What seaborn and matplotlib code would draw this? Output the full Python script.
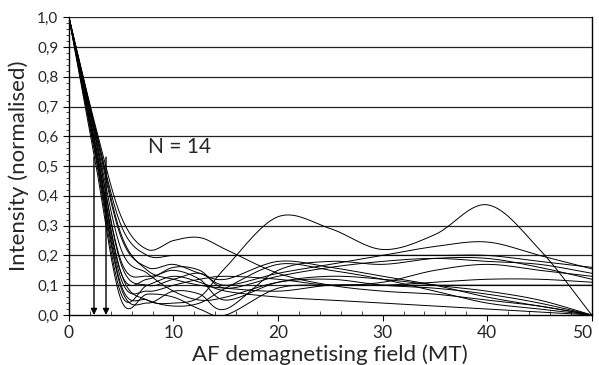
import numpy as np
import pandas as pd
import matplotlib
matplotlib.use("Agg")
import matplotlib.pyplot as plt
from matplotlib.ticker import MultipleLocator, FuncFormatter
import seaborn as sns

# AF steps (mT) and normalised intensities, one list per sample
af_steps = [0, 2.5, 5, 7.5, 10, 12.5, 15, 20, 25, 30, 35, 40, 45, 50]

s01 = [1, 0.58, 0.14, 0.05, 0.04, 0.06, 0.16, 0.33, 0.29, 0.22, 0.27, 0.37, 0.22, 0.00]
s02 = [1, 0.64, 0.33, 0.22, 0.25, 0.26, 0.22, 0.14, 0.10, 0.08, 0.07, 0.05, 0.03, 0.00]
s03 = [1, 0.63, 0.30, 0.20, 0.20, 0.20, 0.20, 0.20, 0.20, 0.20, 0.20, 0.20, 0.18, 0.16]
s04 = [1, 0.60, 0.17, 0.10, 0.12, 0.14, 0.10, 0.14, 0.17, 0.20, 0.23, 0.245, 0.20, 0.155]
s05 = [1, 0.55, 0.09, 0.04, 0.08, 0.07, 0.02, 0.15, 0.18, 0.17, 0.19, 0.19, 0.16, 0.12]
s06 = [1, 0.57, 0.12, 0.08, 0.10, 0.12, 0.13, 0.12, 0.10, 0.11, 0.15, 0.17, 0.15, 0.13]
s07 = [1, 0.52, 0.05, 0.07, 0.06, 0.02, 0.00, 0.09, 0.10, 0.10, 0.10, 0.10, 0.10, 0.10]
s08 = [1, 0.60, 0.18, 0.13, 0.15, 0.12, 0.05, 0.11, 0.13, 0.12, 0.10, 0.08, 0.05, 0.00]
s09 = [1, 0.62, 0.26, 0.16, 0.17, 0.14, 0.12, 0.18, 0.16, 0.13, 0.10, 0.06, 0.03, 0.00]
s10 = [1, 0.54, 0.07, 0.10, 0.13, 0.11, 0.08, 0.06, 0.05, 0.04, 0.03, 0.02, 0.01, 0.00]
s11 = [1, 0.58, 0.14, 0.12, 0.16, 0.15, 0.09, 0.13, 0.16, 0.18, 0.19, 0.18, 0.17, 0.14]
s12 = [1, 0.56, 0.10, 0.05, 0.03, 0.04, 0.09, 0.17, 0.15, 0.12, 0.08, 0.04, 0.02, 0.00]
s13 = [1, 0.61, 0.22, 0.14, 0.08, 0.05, 0.06, 0.11, 0.12, 0.10, 0.09, 0.07, 0.04, 0.00]
s14 = [1, 0.63, 0.27, 0.15, 0.12, 0.10, 0.09, 0.08, 0.10, 0.10, 0.11, 0.12, 0.12, 0.11]

samples = [s01, s02, s03, s04, s05, s06, s07, s08, s09, s10, s11, s12, s13, s14]

# median destructive fields marked by arrows
mdf_fields = [2.4, 3.55]


def smooth(x, y, n=20):
    # Catmull-Rom spline through the points, like a spreadsheet "smoothed line"
    x = np.asarray(x, float)
    y = np.asarray(y, float)
    px = np.concatenate([[2 * x[0] - x[1]], x, [2 * x[-1] - x[-2]]])
    py = np.concatenate([[2 * y[0] - y[1]], y, [2 * y[-1] - y[-2]]])
    t = np.linspace(0, 1, n, endpoint=False)
    xs, ys = [], []
    for i in range(1, len(px) - 2):
        for p, out in ((px, xs), (py, ys)):
            p0, p1, p2, p3 = p[i - 1], p[i], p[i + 1], p[i + 2]
            out.extend(0.5 * (2 * p1 + (-p0 + p2) * t
                              + (2 * p0 - 5 * p1 + 4 * p2 - p3) * t ** 2
                              + (-p0 + 3 * p1 - 3 * p2 + p3) * t ** 3))
    xs.append(x[-1])
    ys.append(y[-1])
    return np.array(xs), np.array(ys)


sns.set_style("white")
plt.rcParams["font.family"] = ["Lato", "DejaVu Sans"]

fig = plt.figure(figsize=(5.99, 3.65), dpi=100)
ax = fig.add_axes([0.115, 0.137, 0.873, 0.816])

for yy in np.arange(0.1, 1.01, 0.1):
    ax.axhline(yy, color="#222222", lw=0.9, zorder=1)

for i, vals in enumerate(samples):
    xs, ys = smooth(af_steps, vals)
    df = pd.DataFrame({"field": xs, "intensity": ys})
    sns.lineplot(data=df, x="field", y="intensity", color="black", lw=0.7,
                 sort=False, ax=ax, zorder=3)

for f in mdf_fields:
    ax.annotate("", xy=(f, 0.0), xytext=(f, 0.53),
                arrowprops=dict(arrowstyle="-|>", color="black", lw=1.0,
                                mutation_scale=9, shrinkA=0, shrinkB=0),
                zorder=4)

ax.text(7.6, 0.565, "N = 14", fontsize=15, va="center", ha="left")

ax.set_xlim(0, 50)
ax.set_ylim(0, 1.0)
ax.set_xticks([0, 10, 20, 30, 40, 50])
ax.xaxis.set_minor_locator(MultipleLocator(2))
ax.yaxis.set_major_locator(MultipleLocator(0.1))
ax.yaxis.set_minor_locator(MultipleLocator(0.02))
ax.yaxis.set_major_formatter(FuncFormatter(lambda v, p: f"{v:.1f}".replace(".", ",")))
ax.tick_params(axis="both", which="major", labelsize=11, color="black")
ax.tick_params(axis="y", which="major", direction="out", length=4, width=0.8, left=True)
ax.tick_params(axis="y", which="minor", direction="out", length=2, width=0.6, left=True)
ax.tick_params(axis="x", which="major", direction="out", length=4, width=0.8, bottom=True)
ax.tick_params(axis="x", which="minor", direction="in", length=3, width=0.6, bottom=True)
ax.tick_params(axis="x", which="major", labelsize=12.5)

for side in ["left", "bottom", "right"]:
    ax.spines[side].set_color("black")
    ax.spines[side].set_linewidth(1.0)
ax.spines["top"].set_visible(False)

ax.set_xlabel("AF demagnetising field (MT)", fontsize=16, labelpad=2)
ax.set_ylabel("Intensity (normalised)", fontsize=16, labelpad=6)

# keep the "50" label inside the canvas
for lbl in ax.get_xticklabels():
    if lbl.get_text() == "50":
        lbl.set_horizontalalignment("right")
        lbl.set_x(50.6)

fig.savefig("out.png", dpi=100)
